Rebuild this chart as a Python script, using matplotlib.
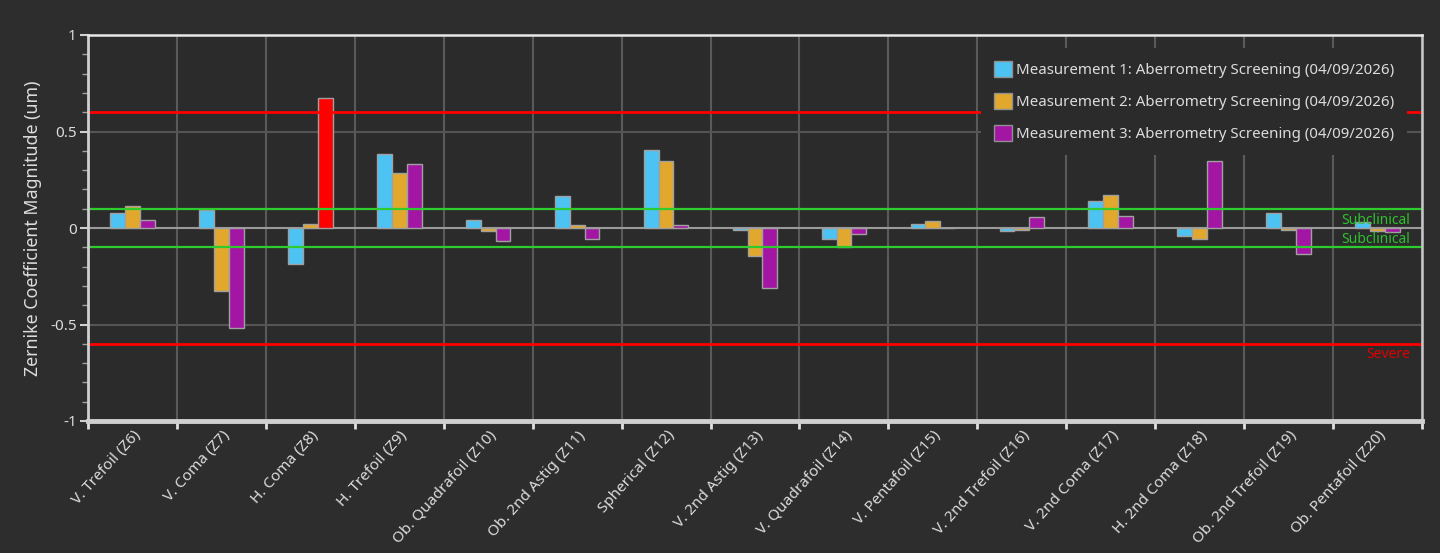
import matplotlib
matplotlib.use("Agg")
import matplotlib.pyplot as plt
import matplotlib.transforms as mtransforms
from matplotlib.patches import Patch
import numpy as np

plt.rcParams['font.family'] = ['Noto Sans', 'DejaVu Sans']

categories = ["V. Trefoil (Z6)", "V. Coma (Z7)", "H. Coma (Z8)", "H. Trefoil (Z9)",
              "Ob. Quadrafoil (Z10)", "Ob. 2nd Astig (Z11)", "Spherical (Z12)",
              "V. 2nd Astig (Z13)", "V. Quadrafoil (Z14)", "V. Pentafoil (Z15)",
              "V. 2nd Trefoil (Z16)", "V. 2nd Coma (Z17)", "H. 2nd Coma (Z18)",
              "Ob. 2nd Trefoil (Z19)", "Ob. Pentafoil (Z20)"]
m1 = [0.076, 0.095, -0.187, 0.386, 0.043, 0.165, 0.406, -0.010, -0.057, 0.019,
      -0.017, 0.142, -0.040, 0.076, 0.030]
m2 = [0.116, -0.329, 0.021, 0.284, -0.017, 0.016, 0.347, -0.146, -0.100, 0.036,
      -0.010, 0.172, -0.059, -0.010, -0.014]
m3 = [0.042, -0.520, 0.676, 0.331, -0.069, -0.057, 0.017, -0.312, -0.031, 0.0,
      0.059, 0.061, 0.347, -0.137, -0.023]
series_labels = ["Measurement 1: Aberrometry Screening (04/09/2026)",
                 "Measurement 2: Aberrometry Screening (04/09/2026)",
                 "Measurement 3: Aberrometry Screening (04/09/2026)"]
severe = 0.6
subclinical = 0.1
y_ticks = [-1, -0.5, 0, 0.5, 1]
y_tick_labels = ["-1", "-0.5", "0", "0.5", "1"]

colors = ["#4DC3F3", "#E2A82E", "#A316A3"]
alert_color = "#FF0000"
bg = "#2D2D2D"
txt = "#DCDCDC"

fig = plt.figure(figsize=(14.4, 5.53), dpi=100, facecolor=bg)
ax = fig.add_axes([88/1440, 1-421/553, (1422-88)/1440, (421-35)/553])
ax.set_facecolor("#2B2B2B")

x = np.arange(len(categories))
w = 0.167
for i, vals in enumerate([m1, m2, m3]):
    cols = [alert_color if abs(v) > severe else colors[i] for v in vals]
    ax.bar(x + (i-1)*w, vals, width=w, color=cols, edgecolor="#A0A0A0",
           linewidth=1.0, zorder=3)

ax.set_xlim(-0.5, len(categories)-0.5)
ax.set_ylim(-1, 1)

# threshold lines
for s in (severe, -severe):
    ax.axhline(s, color="#FF0000", lw=2.0, zorder=4)
for s in (subclinical, -subclinical):
    ax.axhline(s, color="#2ECC2E", lw=1.6, zorder=4)
ax.axhline(0, color="#9A9A9A", lw=1.5, zorder=2.5)

trans = mtransforms.blended_transform_factory(ax.transAxes, ax.transData)
ax.text(0.991, 0.041, "Subclinical", color="#2EC02E", fontsize=10, ha="right",
        va="center", transform=trans, zorder=5)
ax.text(0.991, -0.057, "Subclinical", color="#2EC02E", fontsize=10, ha="right",
        va="center", transform=trans, zorder=5)
ax.text(0.991, -0.658, "Severe", color="#E00000", fontsize=10, ha="right",
        va="center", transform=trans, zorder=5)

# ticks
ax.set_yticks(y_ticks)
ax.set_yticklabels(y_tick_labels)
ax.set_yticks(np.arange(-1, 1.001, 0.1), minor=True)
ax.set_xticks(np.arange(-0.5, len(categories), 1.0))
ax.set_xticklabels([])
ax.set_xticks(x, minor=True)
ax.set_xticklabels(categories, minor=True, rotation=48, ha="right", va="top",
                   rotation_mode="anchor", fontsize=11, color=txt)
ax.tick_params(axis="x", which="major", direction="out", length=6, width=2,
               color="#E0E0E0")
ax.tick_params(axis="x", which="minor", length=0, pad=5)
ax.tick_params(axis="y", which="major", direction="out", length=6, width=1.5,
               color="#D0D0D0", labelcolor=txt, labelsize=11, pad=2)
ax.tick_params(axis="y", which="minor", direction="out", length=4, width=1,
               color="#A0A0A0")

ax.grid(True, axis="x", which="major", color="#5A5A5A", lw=1.5, zorder=1)
ax.grid(True, axis="y", which="major", color="#555555", lw=1.5, zorder=1)

for side, lw, c in [("left", 2.0, "#D0D0D0"), ("bottom", 3.5, "#D0D0D0"),
                    ("top", 1.8, "#E8E8E8"), ("right", 1.8, "#C8C8C8")]:
    ax.spines[side].set_linewidth(lw)
    ax.spines[side].set_color(c)
    ax.spines[side].set_zorder(6)

ax.set_ylabel("Zernike Coefficient Magnitude (um)", color=txt, fontsize=12.8,
              labelpad=6)

handles = [Patch(facecolor=c, edgecolor="#909090", linewidth=1) for c in colors]
leg = ax.legend(handles, series_labels, loc="upper right",
                bbox_to_anchor=(0.9888, 0.966), borderaxespad=0,
                frameon=True, facecolor="#2B2B2B", edgecolor="none",
                framealpha=1, fontsize=10.8, labelcolor=txt,
                handlelength=1.25, handleheight=1.25, handletextpad=0.25,
                labelspacing=1.0, borderpad=0.85)
leg.set_zorder(10)

fig.savefig("out.png", dpi=100, facecolor=bg)
